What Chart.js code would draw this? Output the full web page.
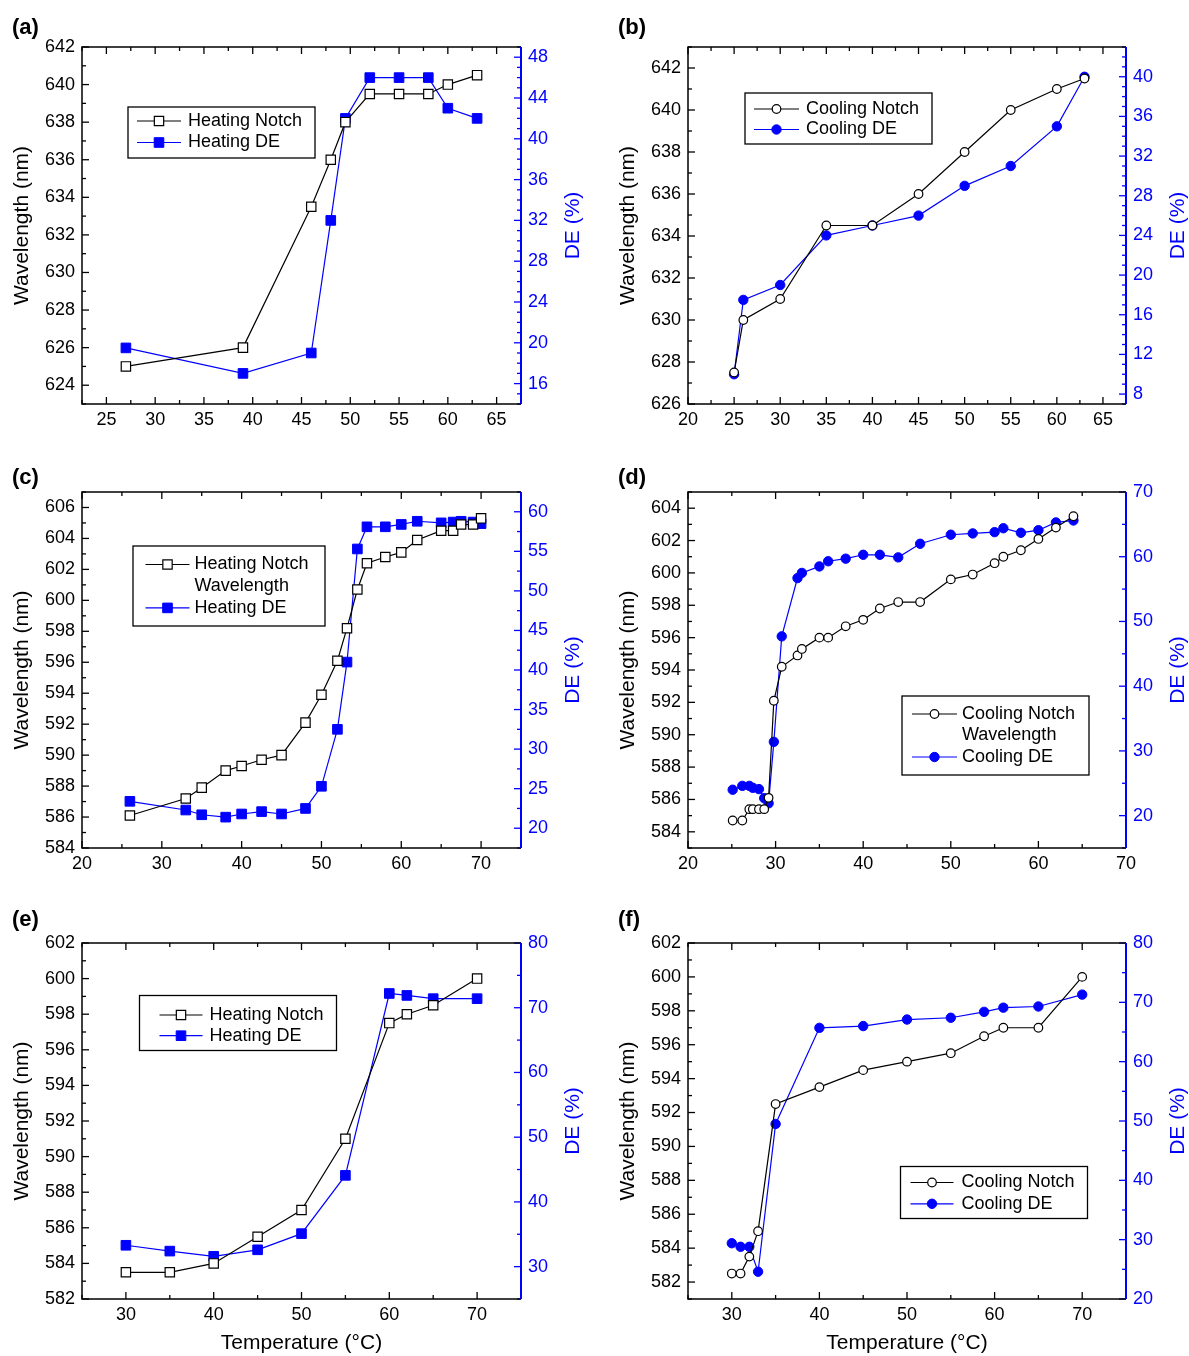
<!DOCTYPE html>
<html lang="en">
  <head>
    <meta charset="UTF-8" />
    <title>Notch wavelength and DE versus temperature</title>
    <script src="https://cdn.jsdelivr.net/npm/chart.js"></script>
    <style>
      body {
        margin: 0;
        background: #fff;
      }
      .figure {
        position: relative;
        width: 1189px;
        height: 1356px;
        overflow: hidden;
        font-family: "Liberation Sans", Arial, sans-serif;
      }
      .figure canvas {
        position: absolute;
      }
      .tag {
        position: absolute;
        font-size: 22px;
        font-weight: bold;
        line-height: 22px;
      }
    </style>
  </head>
  <body>
    <div class="figure">
      <canvas id="chartA" width="594" height="450" style="left: 0; top: 0"></canvas>
      <canvas id="chartB" width="583" height="450" style="left: 606px; top: 0"></canvas>
      <canvas id="chartC" width="594" height="450" style="left: 0; top: 450px"></canvas>
      <canvas id="chartD" width="583" height="450" style="left: 606px; top: 450px"></canvas>
      <canvas id="chartE" width="594" height="456" style="left: 0; top: 900px"></canvas>
      <canvas id="chartF" width="583" height="456" style="left: 606px; top: 900px"></canvas>
      <div class="tag" style="left: 12px; top: 16px">(a)</div>
      <div class="tag" style="left: 618px; top: 16px">(b)</div>
      <div class="tag" style="left: 12px; top: 466px">(c)</div>
      <div class="tag" style="left: 618px; top: 466px">(d)</div>
      <div class="tag" style="left: 12px; top: 908px">(e)</div>
      <div class="tag" style="left: 618px; top: 908px">(f)</div>
    </div>

    <script>
      // ---- data ----
      // (a) heating
      const tempA = [27, 39, 46, 48, 49.5, 52, 55, 58, 60, 63];
      const notchA = [625, 626, 633.5, 636, 638, 639.5, 639.5, 639.5, 640, 640.5];
      const deA = [19.5, 17, 19, 32, 42, 46, 46, 46, 43, 42];
      const tempTicksA = [25, 30, 35, 40, 45, 50, 55, 60, 65];
      const waveTicksA = [624, 626, 628, 630, 632, 634, 636, 638, 640, 642];
      const deTicksA = [16, 20, 24, 28, 32, 36, 40, 44, 48];

      // (b) cooling
      const tempB = [25, 26, 30, 35, 40, 45, 50, 55, 60, 63];
      const notchB = [627.5, 630, 631, 634.5, 634.5, 636, 638, 640, 641, 641.5];
      const deB = [10, 17.5, 19, 24, 25, 26, 29, 31, 35, 40];
      const tempTicksB = [20, 25, 30, 35, 40, 45, 50, 55, 60, 65];
      const waveTicksB = [626, 628, 630, 632, 634, 636, 638, 640, 642];
      const deTicksB = [8, 12, 16, 20, 24, 28, 32, 36, 40];

      // (c) heating
      const tempC = [26, 33, 35, 38, 40, 42.5, 45, 48, 50, 52, 53.2, 54.5, 55.7, 58, 60, 62, 65, 66.5, 67.5, 69, 70];
      const notchC = [586.1, 587.2, 587.9, 589.0, 589.3, 589.7, 590.0, 592.1, 593.9, 596.1, 598.2, 600.7, 602.4, 602.8, 603.1, 603.9, 604.5, 604.5, 604.9, 604.9, 605.3];
      const deC = [23.4, 22.3, 21.7, 21.4, 21.8, 22.1, 21.8, 22.5, 25.3, 32.5, 41, 55.3, 58.1, 58.1, 58.4, 58.8, 58.6, 58.7, 58.8, 58.7, 58.5];
      const tempTicksC = [20, 30, 40, 50, 60, 70];
      const waveTicksC = [584, 586, 588, 590, 592, 594, 596, 598, 600, 602, 604, 606];
      const deTicksC = [20, 25, 30, 35, 40, 45, 50, 55, 60];

      // (d) cooling
      const tempD = [25.1, 26.2, 27.0, 27.4, 28.1, 28.7, 29.2, 29.8, 30.7, 32.5, 33.0, 35.0, 36.0, 38.0, 40.0, 41.9, 44.0, 46.5, 50.0, 52.5, 55.0, 56.0, 58.0, 60.0, 62.0, 64.0];
      const notchD = [584.7, 584.7, 585.4, 585.4, 585.4, 585.4, 586.1, 592.1, 594.2, 594.9, 595.3, 596.0, 596.0, 596.7, 597.1, 597.8, 598.2, 598.2, 599.6, 599.9, 600.6, 601.0, 601.4, 602.1, 602.8, 603.5];
      const deD = [24.0, 24.6, 24.6, 24.3, 24.1, 22.7, 21.9, 31.4, 47.7, 56.7, 57.5, 58.5, 59.3, 59.7, 60.3, 60.3, 59.9, 62.0, 63.4, 63.6, 63.8, 64.4, 63.7, 64.1, 65.3, 65.6];
      const tempTicksD = [20, 30, 40, 50, 60, 70];
      const waveTicksD = [584, 586, 588, 590, 592, 594, 596, 598, 600, 602, 604];
      const deTicksD = [20, 30, 40, 50, 60, 70];

      // (e) heating
      const tempE = [30, 35, 40, 45, 50, 55, 60, 62, 65, 70];
      const notchE = [583.5, 583.5, 584.0, 585.5, 587.0, 591.0, 597.5, 598.0, 598.5, 600.0];
      const deE = [33.3, 32.4, 31.6, 32.6, 35.1, 44.1, 72.2, 71.9, 71.4, 71.4];
      const tempTicksE = [30, 40, 50, 60, 70];
      const waveTicksE = [582, 584, 586, 588, 590, 592, 594, 596, 598, 600, 602];
      const deTicksE = [30, 40, 50, 60, 70, 80];

      // (f) cooling
      const tempF = [30, 31, 32, 33, 35, 40, 45, 50, 55, 58.8, 61, 65, 70];
      const notchF = [582.5, 582.5, 583.5, 585.0, 592.5, 593.5, 594.5, 595.0, 595.5, 596.5, 597.0, 597.0, 600.0];
      const deF = [29.4, 28.8, 28.8, 24.6, 49.5, 65.7, 66.0, 67.1, 67.4, 68.4, 69.1, 69.3, 71.3];
      const tempTicksF = [30, 40, 50, 60, 70];
      const waveTicksF = [582, 584, 586, 588, 590, 592, 594, 596, 598, 600, 602];
      const deTicksF = [20, 30, 40, 50, 60, 70, 80];

      const BLUE = "#0000ff";
      const FONT = '"Liberation Sans", Arial, sans-serif';
      Chart.defaults.font.family = FONT;

      // labelled ticks plus the unlabelled minor ticks between them
      function withMinors(majors, step, min, max) {
        const out = [];
        const start = majors[0];
        const k0 = Math.ceil((min - start) / step - 1e-6);
        for (let k = k0; start + k * step <= max + 1e-6; k++) {
          const v = +(start + k * step).toFixed(4);
          out.push({ value: v, major: majors.some((m) => Math.abs(m - v) < 1e-6) });
        }
        return out;
      }

      // frame, inward ticks, right-hand title and boxed legend
      const framePlugin = {
        id: "frame",
        afterDraw(chart, args, opts) {
          const { ctx, chartArea: a, scales } = chart;
          ctx.save();

          const tick = (x1, y1, x2, y2, color) => {
            ctx.strokeStyle = color;
            ctx.lineWidth = 1.3;
            ctx.beginPath();
            ctx.moveTo(x1, y1);
            ctx.lineTo(x2, y2);
            ctx.stroke();
          };
          scales.x.ticks.forEach((t) => {
            const px = scales.x.getPixelForValue(t.value);
            const len = t.major ? 7 : 4;
            tick(px, a.bottom, px, a.bottom - len, "#000");
            tick(px, a.top, px, a.top + len, "#000");
          });
          scales.y.ticks.forEach((t) => {
            const py = scales.y.getPixelForValue(t.value);
            tick(a.left, py, a.left + (t.major ? 7 : 4), py, "#000");
          });
          scales.y1.ticks.forEach((t) => {
            const py = scales.y1.getPixelForValue(t.value);
            tick(a.right, py, a.right - (t.major ? 7 : 4), py, BLUE);
          });

          // frame
          ctx.lineWidth = 1.5;
          ctx.strokeStyle = "#000";
          ctx.beginPath();
          ctx.moveTo(a.right, a.top);
          ctx.lineTo(a.left, a.top);
          ctx.lineTo(a.left, a.bottom);
          ctx.lineTo(a.right, a.bottom);
          ctx.stroke();
          ctx.lineWidth = 2;
          ctx.strokeStyle = BLUE;
          ctx.beginPath();
          ctx.moveTo(a.right, a.top);
          ctx.lineTo(a.right, a.bottom);
          ctx.stroke();

          // right axis title reads bottom-to-top
          ctx.save();
          ctx.translate(a.right + 52, (a.top + a.bottom) / 2);
          ctx.rotate(-Math.PI / 2);
          ctx.fillStyle = BLUE;
          ctx.font = "21px " + FONT;
          ctx.textAlign = "center";
          ctx.textBaseline = "middle";
          ctx.fillText(opts.rightTitle, 0, 0);
          ctx.restore();

          // legend box
          const lg = opts.legend;
          const bx = a.left + lg.x;
          const by = a.top + lg.y;
          ctx.fillStyle = "#fff";
          ctx.fillRect(bx, by, lg.w, lg.h);
          ctx.lineWidth = 1.3;
          ctx.strokeStyle = "#000";
          ctx.strokeRect(bx, by, lg.w, lg.h);
          ctx.font = "18px " + FONT;
          ctx.textAlign = "left";
          ctx.textBaseline = "middle";
          lg.rows.forEach((row, i) => {
            const ry = by + lg.rowY + i * lg.rowStep;
            ctx.fillStyle = "#000";
            ctx.fillText(row.text, bx + lg.textX, ry);
            if (row.ds === null) return;
            const ds = chart.data.datasets[row.ds];
            const x1 = bx + lg.lineX;
            const x2 = x1 + lg.lineLen;
            ctx.strokeStyle = ds.borderColor;
            ctx.lineWidth = ds.borderWidth;
            ctx.beginPath();
            ctx.moveTo(x1, ry);
            ctx.lineTo(x2, ry);
            ctx.stroke();
            const cx = (x1 + x2) / 2;
            ctx.fillStyle = ds.pointBackgroundColor;
            ctx.strokeStyle = ds.pointBorderColor;
            ctx.lineWidth = ds.pointBorderWidth;
            ctx.beginPath();
            if (ds.pointStyle === "rect") {
              const s = Math.SQRT1_2 * ds.pointRadius;
              ctx.rect(cx - s, ry - s, 2 * s, 2 * s);
            } else {
              ctx.arc(cx, ry, ds.pointRadius, 0, Math.PI * 2);
            }
            ctx.fill();
            ctx.stroke();
          });

          ctx.restore();
        },
      };

      function makePanel(id, p) {
        const square = p.shape === "rect";
        const notchPts = p.temps.map((t, i) => ({ x: t, y: p.notch[i] }));
        const dePts = p.deTemps.map((t, i) => ({ x: t, y: p.de[i] }));
        const tickLabel = (v, i, ticks) => (ticks[i].major ? String(+v.toFixed(2)) : "");

        return new Chart(document.getElementById(id), {
          type: "line",
          data: {
            datasets: [
              {
                label: p.notchLabel,
                data: notchPts,
                yAxisID: "y",
                borderColor: "#000",
                borderWidth: 1.2,
                pointStyle: p.shape,
                pointRadius: square ? 6.6 : 4.3,
                pointBackgroundColor: "#fff",
                pointBorderColor: "#000",
                pointBorderWidth: 1.2,
                tension: 0,
              },
              {
                label: p.deLabel,
                data: dePts,
                yAxisID: "y1",
                borderColor: BLUE,
                borderWidth: 1.2,
                pointStyle: p.shape,
                pointRadius: square ? 6.8 : 4.7,
                pointBackgroundColor: BLUE,
                pointBorderColor: BLUE,
                pointBorderWidth: 1,
                tension: 0,
              },
            ],
          },
          options: {
            responsive: false,
            animation: false,
            layout: { padding: { top: p.padTop, left: 0, right: 0, bottom: 0 } },
            plugins: {
              legend: { display: false },
              tooltip: { enabled: false },
              frame: { rightTitle: "DE (%)", legend: p.legend },
            },
            scales: {
              x: {
                type: "linear",
                min: p.xRange[0],
                max: p.xRange[1],
                grid: { display: false, drawTicks: false },
                border: { display: false },
                afterBuildTicks: (s) => {
                  s.ticks = withMinors(p.xTicks, p.xMinor, s.min, s.max);
                },
                afterFit: (s) => {
                  s.height = p.xAxisH;
                },
                ticks: {
                  autoSkip: false,
                  maxRotation: 0,
                  padding: 5,
                  color: "#000",
                  font: { size: 18 },
                  callback: tickLabel,
                },
                title: {
                  display: p.xTitle,
                  text: "Temperature (°C)",
                  color: "#000",
                  font: { size: 21 },
                  padding: { top: 0, bottom: 0 },
                },
              },
              y: {
                position: "left",
                min: p.yRange[0],
                max: p.yRange[1],
                grid: { display: false, drawTicks: false },
                border: { display: false },
                afterBuildTicks: (s) => {
                  s.ticks = withMinors(p.yTicks, 1, s.min, s.max);
                },
                afterFit: (s) => {
                  s.width = 82;
                },
                ticks: {
                  autoSkip: false,
                  padding: 7,
                  color: "#000",
                  font: { size: 18 },
                  callback: tickLabel,
                },
                title: {
                  display: true,
                  text: "Wavelength (nm)",
                  color: "#000",
                  font: { size: 21 },
                  padding: { top: 9.5, bottom: 0 },
                },
              },
              y1: {
                position: "right",
                min: p.y1Range[0],
                max: p.y1Range[1],
                grid: { display: false, drawTicks: false },
                border: { display: false },
                afterBuildTicks: (s) => {
                  s.ticks = withMinors(p.y1Ticks, p.y1Minor, s.min, s.max);
                },
                afterFit: (s) => {
                  s.width = p.y1W;
                },
                ticks: {
                  autoSkip: false,
                  padding: 7,
                  color: BLUE,
                  font: { size: 18 },
                  callback: tickLabel,
                },
              },
            },
          },
          plugins: [framePlugin],
        });
      }

      makePanel("chartA", {
        temps: tempA, notch: notchA, deTemps: tempA, de: deA, shape: "rect",
        notchLabel: "Heating Notch", deLabel: "Heating DE",
        xRange: [22.5, 67.5], xTicks: tempTicksA, xMinor: 2.5,
        yRange: [623, 642], yTicks: waveTicksA,
        y1Range: [14, 49], y1Ticks: deTicksA, y1Minor: 1,
        padTop: 47, xAxisH: 46, y1W: 73, xTitle: false,
        legend: { x: 46, y: 60, w: 187, h: 51, lineX: 9, lineLen: 44, textX: 60, rowY: 14, rowStep: 21.5,
          rows: [{ text: "Heating Notch", ds: 0 }, { text: "Heating DE", ds: 1 }] },
      });

      makePanel("chartB", {
        temps: tempB, notch: notchB, deTemps: tempB, de: deB, shape: "circle",
        notchLabel: "Cooling Notch", deLabel: "Cooling DE",
        xRange: [20, 67.5], xTicks: tempTicksB, xMinor: 2.5,
        yRange: [626, 643], yTicks: waveTicksB,
        y1Range: [7, 43], y1Ticks: deTicksB, y1Minor: 1,
        padTop: 47, xAxisH: 46, y1W: 63, xTitle: false,
        legend: { x: 57, y: 46, w: 187, h: 51, lineX: 9, lineLen: 45, textX: 61, rowY: 16, rowStep: 20.5,
          rows: [{ text: "Cooling Notch", ds: 0 }, { text: "Cooling DE", ds: 1 }] },
      });

      makePanel("chartC", {
        temps: tempC, notch: notchC, deTemps: tempC, de: deC, shape: "rect",
        notchLabel: "Heating Notch Wavelength", deLabel: "Heating DE",
        xRange: [20, 75], xTicks: tempTicksC, xMinor: 5,
        yRange: [584, 607], yTicks: waveTicksC,
        y1Range: [17.5, 62.5], y1Ticks: deTicksC, y1Minor: 2.5,
        padTop: 42, xAxisH: 52, y1W: 73, xTitle: false,
        legend: { x: 51, y: 54, w: 192, h: 80, lineX: 12.5, lineLen: 44, textX: 61.5, rowY: 18.5, rowStep: 21.7,
          rows: [{ text: "Heating Notch", ds: 0 }, { text: "Wavelength", ds: null }, { text: "Heating DE", ds: 1 }] },
      });

      makePanel("chartD", {
        temps: tempD, notch: notchD, deTemps: tempD, de: deD, shape: "circle",
        notchLabel: "Cooling Notch Wavelength", deLabel: "Cooling DE",
        xRange: [20, 70], xTicks: tempTicksD, xMinor: 5,
        yRange: [583, 605], yTicks: waveTicksD,
        y1Range: [15, 70], y1Ticks: deTicksD, y1Minor: 5,
        padTop: 42, xAxisH: 52, y1W: 63, xTitle: false,
        legend: { x: 214, y: 204, w: 187, h: 79, lineX: 10, lineLen: 45, textX: 60, rowY: 18, rowStep: 21.5,
          rows: [{ text: "Cooling Notch", ds: 0 }, { text: "Wavelength", ds: null }, { text: "Cooling DE", ds: 1 }] },
      });

      makePanel("chartE", {
        temps: tempE, notch: notchE, deTemps: tempE, de: deE, shape: "rect",
        notchLabel: "Heating Notch", deLabel: "Heating DE",
        xRange: [25, 75], xTicks: tempTicksE, xMinor: 5,
        yRange: [582, 602], yTicks: waveTicksE,
        y1Range: [25, 80], y1Ticks: deTicksE, y1Minor: 5,
        padTop: 43, xAxisH: 57, y1W: 73, xTitle: true,
        legend: { x: 57.5, y: 52.5, w: 197, h: 55, lineX: 20, lineLen: 43, textX: 70, rowY: 19.5, rowStep: 20.7,
          rows: [{ text: "Heating Notch", ds: 0 }, { text: "Heating DE", ds: 1 }] },
      });

      makePanel("chartF", {
        temps: tempF, notch: notchF, deTemps: tempF, de: deF, shape: "circle",
        notchLabel: "Cooling Notch", deLabel: "Cooling DE",
        xRange: [25, 75], xTicks: tempTicksF, xMinor: 5,
        yRange: [581, 602], yTicks: waveTicksF,
        y1Range: [20, 80], y1Ticks: deTicksF, y1Minor: 5,
        padTop: 43, xAxisH: 57, y1W: 63, xTitle: true,
        legend: { x: 212.5, y: 223.5, w: 187, h: 52, lineX: 10, lineLen: 43, textX: 61, rowY: 16, rowStep: 21.3,
          rows: [{ text: "Cooling Notch", ds: 0 }, { text: "Cooling DE", ds: 1 }] },
      });
    </script>
  </body>
</html>
